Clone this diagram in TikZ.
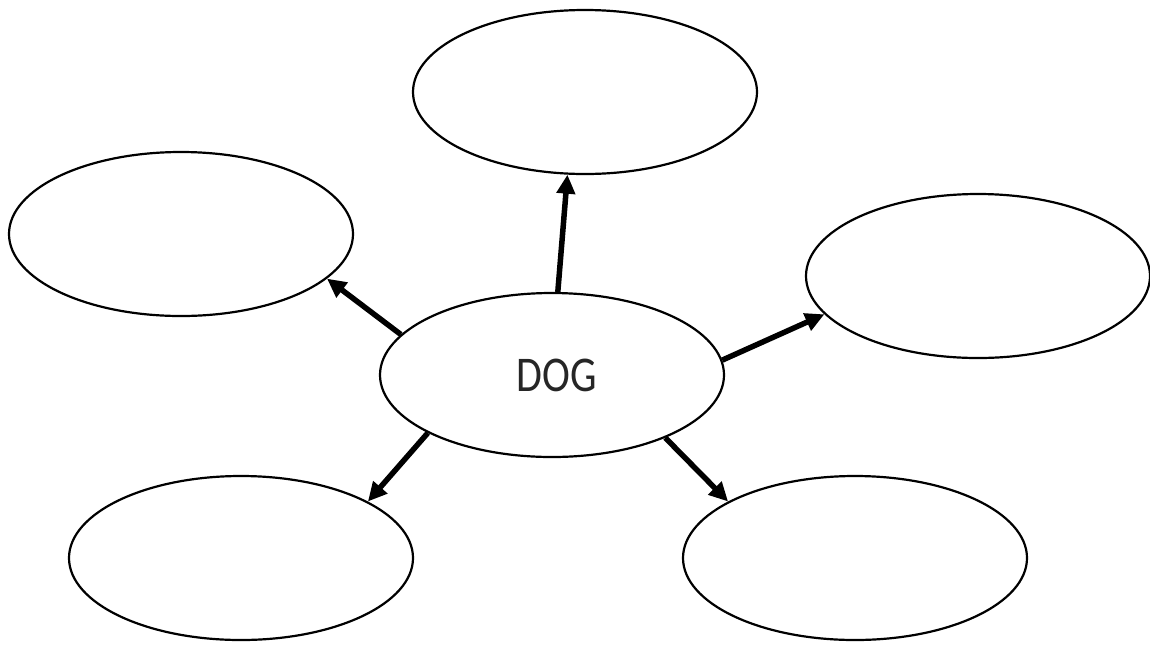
\documentclass[tikz,border=0pt]{standalone}
\usepackage{fontspec}
\setmainfont{Carlito}
\usetikzlibrary{shapes.geometric,arrows.meta}
\tikzset{
  bubble/.style={ellipse, draw=black, line width=2.2pt, minimum width=344pt, minimum height=164pt, inner sep=0pt},
  link/.style={line width=5.5pt, -{Triangle[length=19pt,width=18pt]}}
}
\begin{document}
\begin{tikzpicture}[x=1pt,y=-1pt]
\useasboundingbox (0,0) rectangle (1150,646);
\node[bubble, font=\fontsize{50}{60}\selectfont, text=black!85] (c) at (552,375) {\hspace*{10pt}\scalebox{0.84}[1]{DOG}};
\node[bubble] (t) at (585,92) {};
\node[bubble] (l) at (181,234) {};
\node[bubble] (r) at (978,276) {};
\node[bubble] (bl) at (241,558) {};
\node[bubble] (br) at (855,558) {};
\draw[link] (c.86.6) -- (t.258.2);
\draw[link] (c.165.1) -- (l.-17.1);
\draw[link] (c.5) -- (r.194.5);
\draw[link] (c.205.8) -- (bl.24.2);
\draw[link] (c.331.9) -- (br.156.3);
\end{tikzpicture}
\end{document}
